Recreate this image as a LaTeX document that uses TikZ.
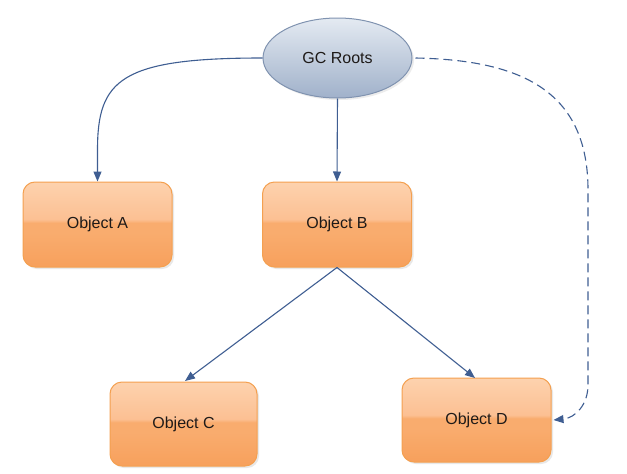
\documentclass[tikz,border=0pt]{standalone}
\usepackage{fontspec}
\setmainfont{Liberation Sans}
\usetikzlibrary{arrows.meta,shapes.geometric,shadows}
\definecolor{otop}{HTML}{FDD2AE}
\definecolor{otop2}{HTML}{FCC093}
\definecolor{omid}{HTML}{F9AC6E}
\definecolor{obot}{HTML}{F7A05C}
\definecolor{oborder}{HTML}{F4A050}
\definecolor{gtop}{HTML}{E4EAF2}
\definecolor{gbot}{HTML}{A0B1CA}
\definecolor{gborder}{HTML}{8093B0}
\definecolor{linecol}{HTML}{3F5E92}
\definecolor{txt}{HTML}{1E1A18}
\pgfdeclareverticalshading{orangebox}{100bp}{color(0bp)=(obot); color(25bp)=(obot); color(45bp)=(omid); color(51bp)=(omid); color(53bp)=(otop2); color(75bp)=(otop); color(100bp)=(otop)}
\tikzset{
  objbox/.style={draw=oborder, line width=1pt, rounded corners=12pt, shading=orangebox,
    minimum width=149pt, minimum height=85pt, text=txt, font=\fontsize{16}{19}\selectfont,
    drop shadow={opacity=0.18, shadow xshift=2pt, shadow yshift=-2pt}},
  rootnode/.style={ellipse, draw=gborder, line width=1pt, top color=gtop, bottom color=gbot,
    minimum width=149pt, minimum height=80pt, inner sep=0pt, text=txt, font=\fontsize{16}{19}\selectfont,
    drop shadow={opacity=0.15, shadow xshift=2pt, shadow yshift=-2pt}},
  conn/.style={draw=linecol, line width=1.1pt, -{Triangle[length=10pt,width=8pt]}},
}
\begin{document}
\begin{tikzpicture}[x=1pt,y=-1pt]
\path[use as bounding box, fill=white] (0,0) rectangle (627,474);
\node[rootnode] (gc) at (337.5,58) {GC Roots};
\node[objbox] (a) at (97.5,224.5) {Object A};
\node[objbox] (b) at (337,224.5) {Object B};
\node[objbox, minimum width=147pt, minimum height=84pt] (c) at (183.5,424) {Object C};
\node[objbox, minimum height=84pt] (d) at (476.5,420) {Object D};
\coordinate (ca) at (97.5,150);
\coordinate (cdtop) at (588,190);
\coordinate (cdbot) at (588,385);
\coordinate (bc) at (185,381);
\coordinate (bd) at (475,378);
\draw[conn] (gc.west) .. controls (120,58) and (97.5,80) .. (ca) -- (a.north);
\draw[conn] (gc.south) -- (b.north);
\draw[conn] (b.south) -- (bc);
\draw[conn] (b.south) -- (bd);
\draw[conn, dash pattern=on 9pt off 5pt] ([xshift=3pt]gc.east) .. controls (520,60) and (588,90) .. (cdtop) -- (cdbot) .. controls (588,405) and (575,418) .. ([xshift=2pt]d.east);
\end{tikzpicture}
\end{document}
